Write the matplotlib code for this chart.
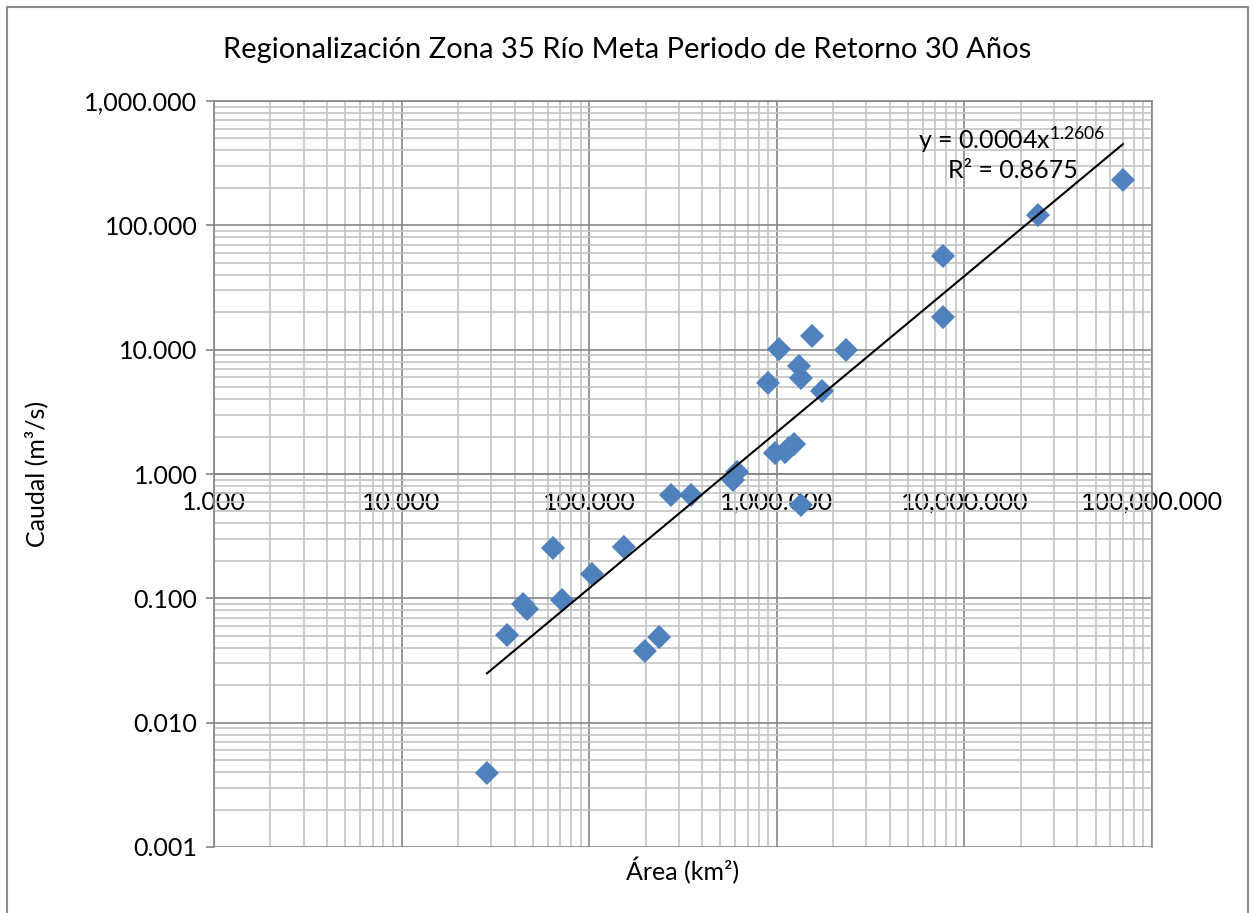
import numpy as np
import matplotlib.pyplot as plt
from matplotlib.patches import Rectangle

plt.rcParams['font.family'] = ['Lato', 'DejaVu Sans']
plt.rcParams['mathtext.fontset'] = 'custom'
plt.rcParams['mathtext.rm'] = 'Lato'
plt.rcParams['mathtext.it'] = 'Lato'

# area (km2) vs caudal (m3/s)
area = [28.5, 36.5, 44.4, 46.6, 64.1, 71.6, 103.5, 153, 198, 236,
        273, 349, 584, 614, 898, 978, 1027, 1106, 1161, 1236,
        1313, 1345, 1345, 1541, 1741, 2339, 7690, 7690, 24660, 70000]
caudal = [0.00394, 0.0507, 0.090, 0.082, 0.254, 0.097, 0.157, 0.259, 0.0377, 0.0488,
          0.678, 0.678, 0.895, 1.04, 5.40, 1.475, 10.1, 1.50, 1.62, 1.74,
          7.39, 5.92, 0.563, 12.9, 4.65, 9.95, 56.7, 18.3, 121, 232]

xticks = [1, 10, 100, 1000, 10000, 100000]
xtick_labels = ['1.000', '10.000', '100.000', '1,000.000', '10,000.000', '100,000.000']
yticks = [0.001, 0.01, 0.1, 1, 10, 100, 1000]
ytick_labels = ['0.001', '0.010', '0.100', '1.000', '10.000', '100.000', '1,000.000']

MAJOR = '#868686'
MINOR = '#c4c4c4'
BLUE = '#4f81bd'
FS = 18

fig = plt.figure(figsize=(12.54, 9.13), dpi=100)
ax = fig.add_axes([214/1254, 1-847/913, 938/1254, 746/913])

ax.set_xscale('log')
ax.set_yscale('log')
ax.set_xlim(1, 100000)
ax.set_ylim(0.001, 1000)

ax.grid(True, which='minor', color=MINOR, lw=1.2, zorder=0)
ax.grid(True, which='major', color=MAJOR, lw=1.2, zorder=0)
ax.set_axisbelow(True)

ax.scatter(area, caudal, marker='D', s=150, color=BLUE, edgecolors='none', zorder=3)

# power trendline fitted in log space
lx, ly = np.log10(area), np.log10(caudal)
b, a = np.polyfit(lx, ly, 1)
xs = np.array([min(area), max(area)])
ax.plot(xs, 10**a * xs**b, color='black', lw=1.5, zorder=4)

fig.text(1012/1254, 1-140/913, r'y = 0.0004x$^{1.2606}$', fontsize=FS, ha='center', va='center')
fig.text(1013/1254, 1-171/913, 'R² = 0.8675', fontsize=FS, ha='center', va='center')

ax.set_xticks(xticks)
ax.set_xticklabels(xtick_labels)
ax.set_yticks(yticks)
ax.set_yticklabels(ytick_labels)
ax.xaxis.set_minor_formatter(plt.NullFormatter())
ax.yaxis.set_minor_formatter(plt.NullFormatter())
ax.tick_params(axis='x', which='both', length=0, pad=12, labelsize=FS)
ax.tick_params(axis='y', which='major', length=6, width=1.2, color=MAJOR, pad=6, labelsize=FS)
ax.tick_params(axis='y', which='minor', length=0)

for s in ax.spines.values():
    s.set_color(MAJOR)
    s.set_linewidth(1.2)
ax.spines['bottom'].set_position(('data', 1))

ax.set_xlabel('Área (km²)', fontsize=FS)
ax.xaxis.set_label_coords(0.5, -0.013)
ax.set_ylabel('Caudal (m³/s)', fontsize=FS)
ax.yaxis.set_label_coords(-0.177, 0.5)

fig.text(0.5, 1-50/913, 'Regionalización Zona 35 Río Meta Periodo de Retorno 30 Años',
         fontsize=21, ha='center', va='center')

fig.patches.append(Rectangle((7/1254, -0.02), 1241/1254, 1.02-7/913, transform=fig.transFigure,
                             fill=False, edgecolor='#8c8c8c', lw=1.5))

fig.savefig('out.png', dpi=100)
